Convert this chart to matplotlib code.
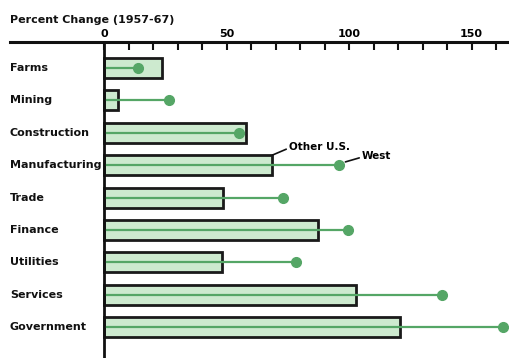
import matplotlib
matplotlib.use("Agg")
import matplotlib.pyplot as plt
import matplotlib.transforms as mtransforms

# percent change 1957-67
categories = ["Farms", "Mining", "Construction", "Manufacturing", "Trade",
              "Finance", "Utilities", "Services", "Government"]
other_us = [23.5, 5.8, 58, 68.7, 48.4, 87.5, 48, 103, 121]
west = [14, 26.4, 55, 96, 73, 99.5, 78.4, 138, 163]
tick_values = list(range(0, 170, 10))
tick_labels = ["0", "50", "100", "150"]

W, H = 509, 358
fig = plt.figure(figsize=(W / 100, H / 100), dpi=100)
ax = fig.add_axes([10 / W, 0, 1 - 10 / W, 1 - 42 / H])

bar_col = "#cdeacf"
line_col = "#55a666"

ypos = list(range(len(categories)))
ax.barh(ypos, other_us, height=0.62, color=bar_col, edgecolor="#1a1a1a",
        linewidth=2, zorder=2)
for y, w in zip(ypos, west):
    ax.plot([0, w], [y, y], color=line_col, lw=1.6, zorder=3,
            solid_capstyle="butt")
ax.plot(west, ypos, "o", color=line_col, ms=7, zorder=4)

ax.set_xlim(-38.4, 165.3)
ax.set_ylim(8.95, -0.80)

for s in ["left", "right", "bottom"]:
    ax.spines[s].set_visible(False)
ax.spines["top"].set_linewidth(2.2)
ax.spines["top"].set_color("#111111")
ax.axvline(0, color="#111111", lw=2, zorder=5)

ax.xaxis.tick_top()
ax.set_xticks(tick_values)
ax.set_xticklabels([str(v) if str(v) in tick_labels else "" for v in tick_values])
ax.tick_params(axis="x", direction="in", length=6, width=1.5, color="#111111",
               pad=2, labelsize=8)
for lab in ax.get_xticklabels():
    lab.set_fontweight("bold")
ax.set_yticks([])

trans = mtransforms.blended_transform_factory(ax.transAxes, ax.transData)
for y, c in zip(ypos, categories):
    ax.text(0, y, c, transform=trans, ha="left", va="center", fontsize=8,
            fontweight="bold", color="#111111")

fig.text(10 / W, 1 - 20 / H, "Percent Change (1957-67)", ha="left",
         va="center", fontsize=8, fontweight="bold", color="#111111")

# callouts on manufacturing
ax.annotate("Other U.S.", xy=(other_us[3], 3 - 0.31), xytext=(75.5, 2.44),
            fontsize=7.5, fontweight="bold", ha="left", va="center",
            arrowprops=dict(arrowstyle="-", color="#111111", lw=1.2,
                            shrinkA=0, shrinkB=0, relpos=(0, 0.4)))
ax.annotate("West", xy=(west[3] + 2.5, 3 - 0.1), xytext=(105.3, 2.72),
            fontsize=7.5, fontweight="bold", ha="left", va="center",
            arrowprops=dict(arrowstyle="-", color="#111111", lw=1.2,
                            shrinkA=0, shrinkB=0, relpos=(0, 0.4)))

fig.savefig("out.png", dpi=100)
